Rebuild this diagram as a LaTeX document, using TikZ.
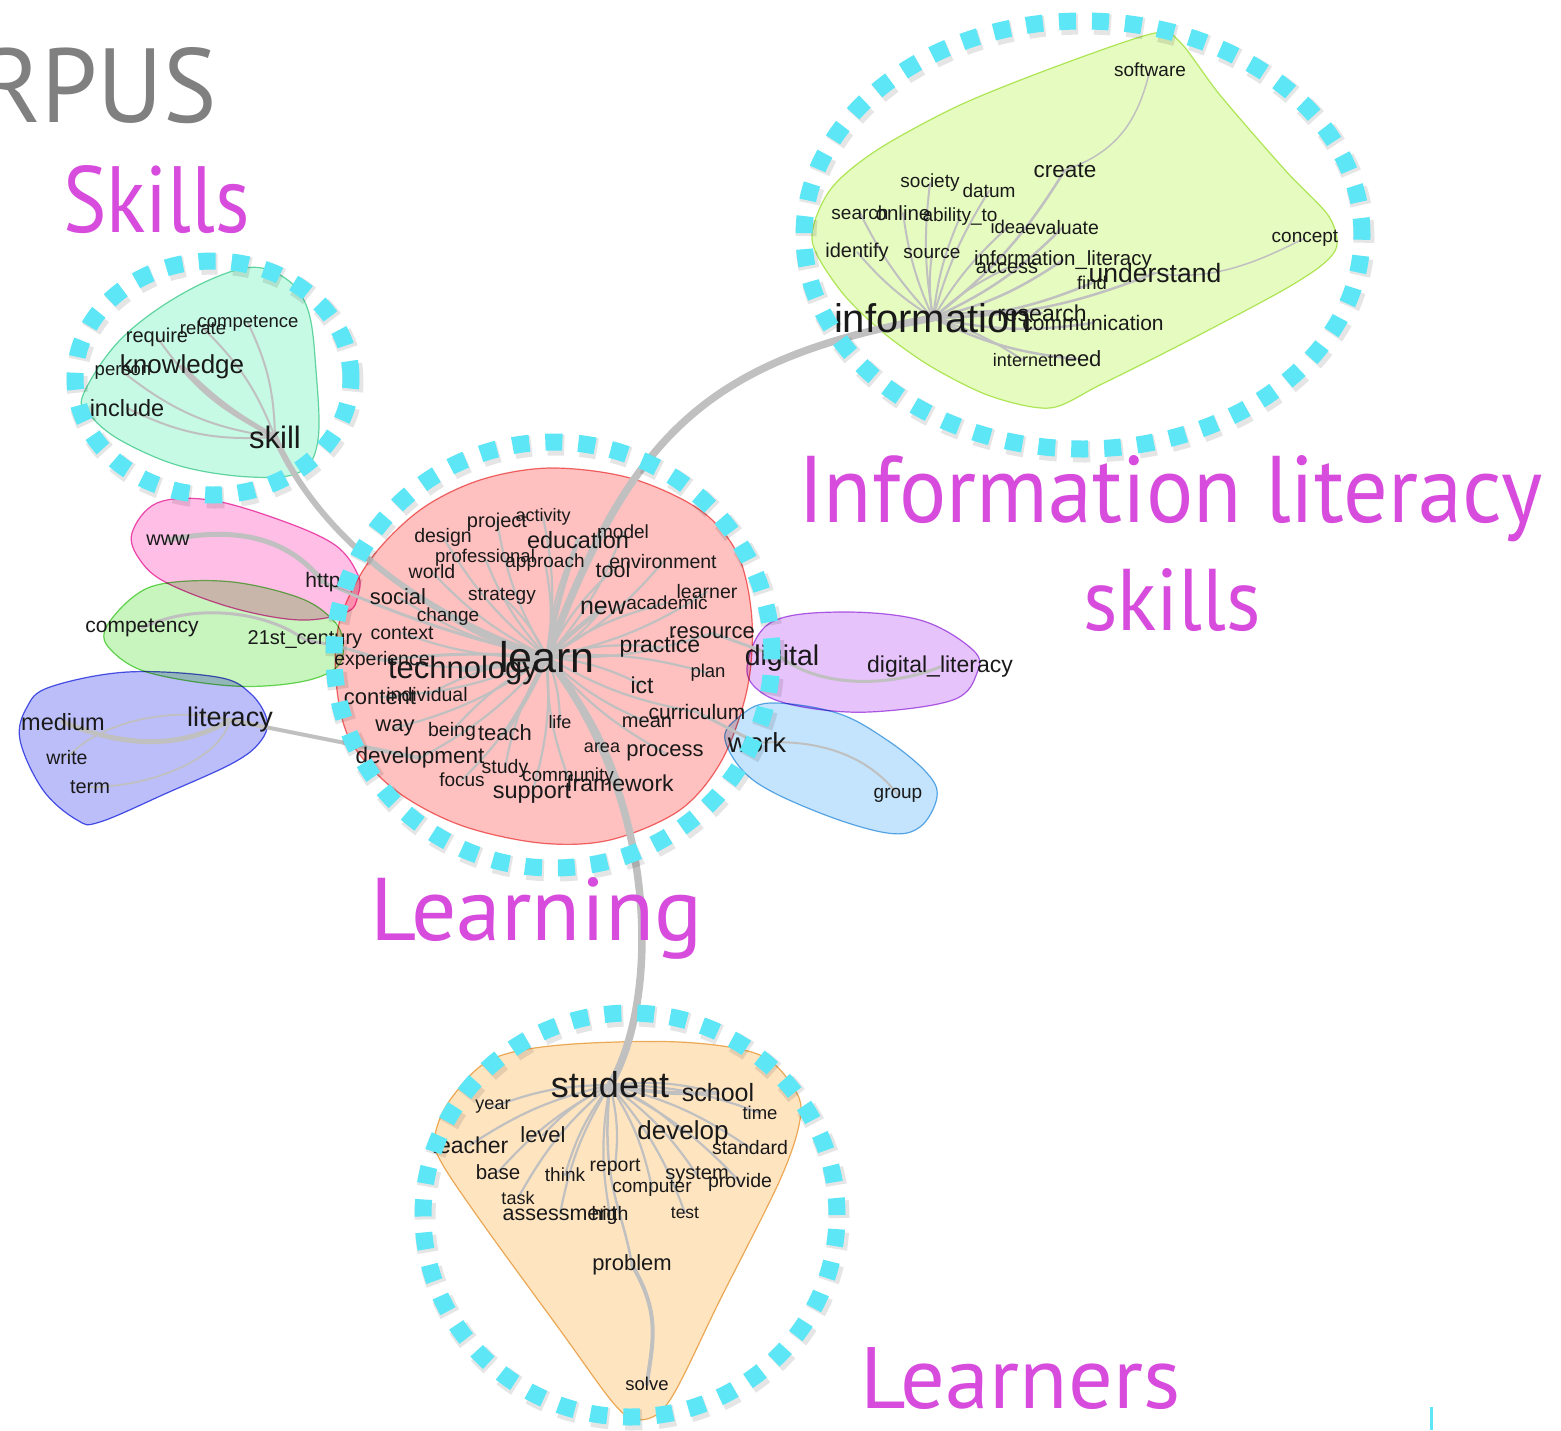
\documentclass[tikz,border=0pt]{standalone}
\usepackage{fontspec}
\setmainfont{Liberation Sans}
\newfontfamily\labfont{PT Sans}
\definecolor{ink}{RGB}{25,25,25}
\definecolor{eg}{RGB}{192,192,192}
\definecolor{cy}{RGB}{92,230,246}
\definecolor{mag}{RGB}{215,76,221}
\definecolor{rp}{RGB}{128,128,128}
\definecolor{mintf}{RGB}{198,250,228}\definecolor{mintd}{RGB}{110,215,170}
\definecolor{infof}{RGB}{230,251,192}\definecolor{infod}{RGB}{185,232,100}
\definecolor{learnf}{RGB}{255,192,192}\definecolor{learnd}{RGB}{240,110,110}
\definecolor{peachf}{RGB}{255,228,192}\definecolor{peachd}{RGB}{235,180,100}
\definecolor{wwwf}{RGB}{255,190,230}\definecolor{wwwd}{RGB}{235,80,180}
\definecolor{compf}{RGB}{200,245,190}\definecolor{compd}{RGB}{110,215,90}
\definecolor{litf}{RGB}{188,190,250}\definecolor{litd}{RGB}{80,90,230}
\definecolor{digf}{RGB}{230,195,250}\definecolor{digd}{RGB}{180,100,230}
\definecolor{workf}{RGB}{195,228,252}\definecolor{workd}{RGB}{100,175,230}
\pgfdeclarelayer{blobs}\pgfdeclarelayer{edges}\pgfdeclarelayer{rings}
\pgfsetlayers{blobs,edges,main,rings}
\begin{document}
\begin{tikzpicture}[x=1pt,y=-1pt,
  wd/.style={font=\fontsize{#1}{#1}\selectfont, inner sep=0pt, text=ink},
  lab/.style={font=\labfont\fontsize{90}{90}\selectfont, text=mag, inner sep=0pt},
  ed/.style={draw=eg, line width=#1, line cap=round},
  ed/.default=2pt,
  blob/.style={line width=1.2pt},
  ring/.style={draw=cy, line width=17pt, dash pattern=on 17pt off 16pt},
  ringshadow/.style={draw=black, opacity=0.10, line width=21pt, dash pattern=on 17pt off 16pt}]
\useasboundingbox (0,0) rectangle (1561,1430);
\begin{pgfonlayer}{blobs}
\fill[white] (0,0) rectangle (1561,1430);
\begin{scope}[blend mode=multiply]
\draw[blob, draw=mintd, fill=mintf] plot[smooth cycle, tension=0.6] coordinates {(83,395) (120,340) (180,295) (245,268) (285,278) (308,310) (316,370) (318,440) (300,472) (250,477) (180,466) (120,440) (90,415)};
\draw[blob, draw=infod, fill=infof] plot[smooth cycle, tension=0.5] coordinates {(812,240) (830,190) (877,150) (960,105) (1060,65) (1155,33) (1180,42) (1220,95) (1285,170) (1328,215) (1337,245) (1322,265) (1280,292) (1180,345) (1100,385) (1050,408) (990,396) (930,366) (880,330) (840,290)};
\draw[blob, draw=learnd, fill=learnf] plot[smooth cycle, tension=0.55] coordinates {(340,620) (370,560) (420,510) (480,480) (550,468) (630,478) (700,510) (738,555) (752,620) (747,690) (722,760) (680,810) (610,840) (540,843) (460,825) (395,790) (350,740) (336,680)};
\draw[blob, draw=peachd, fill=peachf] plot[smooth cycle, tension=0.55] coordinates {(435,1135) (450,1100) (490,1060) (560,1045) (680,1042) (760,1055) (795,1090) (800,1120) (780,1180) (720,1300) (670,1400) (640,1420) (615,1405) (560,1330) (480,1220) (440,1160)};
\draw[blob, draw=wwwd, fill=wwwf] plot[smooth cycle, tension=0.6] coordinates {(132,533) (157,503) (210,500) (280,520) (335,545) (358,575) (358,595) (347,612) (300,620) (233,608) (167,583) (140,560)};
\draw[blob, draw=compd, fill=compf] plot[smooth cycle, tension=0.6] coordinates {(105,630) (133,597) (167,583) (233,582) (300,598) (333,620) (343,642) (337,667) (300,682) (233,686) (150,673) (113,652)};
\draw[blob, draw=litd, fill=litf] plot[smooth cycle, tension=0.6] coordinates {(20,740) (27,707) (50,687) (127,672) (217,677) (250,693) (267,720) (260,742) (233,763) (167,793) (100,822) (77,820) (43,790)};
\draw[blob, draw=digd, fill=digf] plot[smooth cycle, tension=0.6] coordinates {(747,667) (770,623) (837,612) (920,620) (973,650) (977,673) (953,700) (870,712) (803,707) (762,693)};
\draw[blob, draw=workd, fill=workf] plot[smooth cycle, tension=0.6] coordinates {(725,740) (739,717) (770,703) (837,713) (887,740) (927,773) (937,797) (920,827) (887,833) (820,813) (753,780)};
\end{scope}
\end{pgfonlayer}

% ---------- words: learn cluster
\node[wd=20] (project) at (497,522) {project};
\node[wd=18] (activity) at (543,517) {activity};
\node[wd=19.5] (design) at (443,537) {design};
\node[wd=23.5] (education) at (578,540) {education};
\node[wd=19] (model) at (623,532) {model};
\node[wd=18.5] (professional) at (485,558) {professional};
\node[wd=19] (approach) at (545,563) {approach};
\node[wd=21.5] (tool) at (613,570) {tool};
\node[wd=19.5] (environment) at (663,562) {environment};
\node[wd=19.5] (world) at (432,572) {world};
\node[wd=22] (social) at (398,597) {social};
\node[wd=19] (strategy) at (502,596) {strategy};
\node[wd=25] (new) at (603,608) {new};
\node[wd=19] (academic) at (667,603) {academic};
\node[wd=19.5] (learner) at (707,592) {learner};
\node[wd=19] (change) at (448,617) {change};
\node[wd=19.5] (context) at (402,633) {context};
\node[wd=22] (resource) at (712,633) {resource};
\node[wd=23] (practice) at (660,647) {practice};
\node[wd=43] (learn) at (547,657) {learn};
\node[wd=31] (technology) at (463,670) {technology};
\node[wd=19.5] (experience) at (382,660) {experience};
\node[wd=18.5] (plan) at (708,673) {plan};
\node[wd=23] (ict) at (642,685) {ict};
\node[wd=22] (content) at (380,697) {content};
\node[wd=19.5] (individual) at (427,695) {individual};
\node[wd=21] (curriculum) at (697,712) {curriculum};
\node[wd=20] (mean) at (647,722) {mean};
\node[wd=18] (life) at (560,722) {life};
\node[wd=22] (way) at (395,728) {way};
\node[wd=19.5] (being) at (452,731) {being};
\node[wd=22] (teach) at (505,733) {teach};
\node[wd=18] (area) at (602,748) {area};
\node[wd=22] (process) at (665,753) {process};
\node[wd=22.5] (development) at (420,758) {development};
\node[wd=19.5] (study) at (505,768) {study};
\node[wd=19] (focus) at (462,780) {focus};
\node[wd=19] (community) at (568,777) {community};
\node[wd=23] (framework) at (620,783) {framework};
\node[wd=23.5] (support) at (532,793) {support};
% ---------- information cluster
\node[wd=22.5] (create) at (1065,170) {create};
\node[wd=19] (software) at (1150,70) {software};
\node[wd=19] (concept) at (1305,238) {concept};
\node[wd=19] (society) at (930,183) {society};
\node[wd=19] (datum) at (989,191) {datum};
\node[wd=19] (search) at (860,213) {search};
\node[wd=20.5] (online) at (903,213) {online};
\node[wd=19] (ability) at (960,217) {ability\_to};
\node[wd=18.5] (idea) at (1008,227) {idea};
\node[wd=19.5] (evaluate) at (1062,228) {evaluate};
\node[wd=20] (identify) at (857,252) {identify};
\node[wd=19] (source) at (932,253) {source};
\node[wd=20.5] (infolit) at (1063,260) {information\_literacy};
\node[wd=20] (access) at (1007,268) {access};
\node[wd=26.5] (understand) at (1155,273) {understand};
\node[wd=18.5] (find) at (1092,283) {find};
\node[wd=40] (information) at (933,318) {information};
\node[wd=23] (research) at (1042,313) {research};
\node[wd=21] (communication) at (1093,323) {communication};
\node[wd=18] (internet) at (1023,360) {internet};
\node[wd=22] (need) at (1077,359) {need};
% ---------- learners cluster
\node[wd=36] (student) at (610,1085) {student};
\node[wd=25] (school) at (718,1093) {school};
\node[wd=18.5] (time) at (760,1113) {time};
\node[wd=18] (year) at (493,1107) {year};
\node[wd=22] (level) at (543,1135) {level};
\node[wd=26] (develop) at (683,1133) {develop};
\node[wd=23] (teacher) at (470,1145) {teacher};
\node[wd=19.5] (standard) at (750,1148) {standard};
\node[wd=20.5] (base) at (498,1172) {base};
\node[wd=19] (think) at (565,1175) {think};
\node[wd=19.5] (report) at (615,1167) {report};
\node[wd=20] (system) at (697,1175) {system};
\node[wd=19.5] (provide) at (740,1182) {provide};
\node[wd=19] (computer) at (652,1188) {computer};
\node[wd=18] (task) at (518,1198) {task};
\node[wd=21.5] (assessment) at (560,1214) {assessment};
\node[wd=19.5] (high) at (610,1215) {high};
\node[wd=17.5] (test) at (685,1213) {test};
\node[wd=22] (problem) at (632,1265) {problem};
\node[wd=18.5] (solve) at (647,1384) {solve};
% ---------- skills cluster
\node[wd=20] (require) at (157,337) {require};
\node[wd=18.5] (relate) at (203,328) {relate};
\node[wd=18.5] (competence) at (248,323) {competence};
\node[wd=26] (knowledge) at (182,367) {knowledge};
\node[wd=18.5] (person) at (123,372) {person};
\node[wd=23.5] (include) at (127,408) {include};
\node[wd=31] (skill) at (275,437) {skill};
% ---------- small clusters
\node[wd=20] (www) at (168,540) {www};
\node[wd=21] (http) at (323,582) {http};
\node[wd=21] (competency) at (142,628) {competency};
\node[wd=20] (c21) at (305,640) {21st\_century};
\node[wd=23.5] (medium) at (63,722) {medium};
\node[wd=27] (literacy) at (230,720) {literacy};
\node[wd=19.5] (write) at (67,758) {write};
\node[wd=20] (term) at (90,787) {term};
\node[wd=28.5] (digital) at (782,658) {digital};
\node[wd=23] (dlit) at (940,667) {digital\_literacy};
\node[wd=27.5] (work) at (757,743) {work};
\node[wd=19] (group) at (898,795) {group};

% ---------- labels
\node[lab, anchor=base west] (lSkills) at (63,232) {\resizebox{187pt}{67pt}{Skills}};
\node[lab, anchor=base west] (lInfo) at (798,522) {\resizebox{744pt}{67pt}{Information literacy}};
\node[lab, anchor=base west] (lInfoB) at (1083,630) {\resizebox{178pt}{62pt}{skills}};
\node[lab, anchor=base west] (lLearning) at (370,940) {\resizebox{332pt}{63pt}{Learning}};
\node[lab, anchor=base west] (lLearners) at (860,1408) {\resizebox{320pt}{61pt}{Learners}};
\node[lab, text=rp, anchor=base east] (lCorpus) at (217,122) {\resizebox{235pt}{75pt}{RPUS}};

% ---------- edges
\begin{pgfonlayer}{edges}
\foreach \w in {project,design,professional,world,social,change,context,experience,content,way,development,focus,support,life,area,framework,ict,plan,practice,academic,tool,education}
  \draw[ed=2.2pt] (learn.center) to[bend left=10] (\w.center);
\foreach \w in {activity,model,approach,environment,strategy,new,learner,resource,individual,curriculum,mean,being,process,study,community}
  \draw[ed=2.2pt] (learn.center) to[bend right=10] (\w.center);
\foreach \w in {technology,teach,education,new}
  \draw[ed=4.5pt] (learn.center) to[bend left=4] (\w.center);
\foreach \w in {society,datum,search,online,ability,idea,identify,source,access,internet,research}
  \draw[ed=2pt] (information.center) to[bend left=8] (\w.center);
\foreach \w in {evaluate,infolit,find,communication,need,create,understand}
  \draw[ed=2.5pt] (information.center) to[bend right=10] (\w.center);
\draw[ed=1.5pt] (create.center) .. controls +(60,-20) and +(-10,40) .. (software.center);
\draw[ed=1.5pt] (understand.center) .. controls +(60,10) and +(-40,20) .. (concept.center);
\foreach \w in {year,level,teacher,base,think,task,assessment,high}
  \draw[ed=2.2pt] (student.center) to[bend right=10] (\w.center);
\foreach \w in {school,time,develop,standard,report,system,provide,computer,test}
  \draw[ed=2.2pt] (student.center) to[bend left=10] (\w.center);
\draw[ed=4pt] (student.center) to[bend right=6] (school.center);
\draw[ed=2.5pt] (student.center) .. controls +(-10,100) and +(-10,-60) .. (problem.center);
\draw[ed=4pt] (problem.center) .. controls +(30,50) and +(5,-40) .. (solve.center);
\draw[ed=5pt] (skill.center) to[bend left=8] (knowledge.center);
\foreach \w in {include,person,require}
  \draw[ed=2pt] (skill.center) to[bend left=15] (\w.center);
\foreach \w in {relate,competence}
  \draw[ed=2pt] (skill.center) to[bend right=12] (\w.center);
% inter-cluster
\draw[ed=7.5pt] (learn.center) .. controls +(83,-217) and +(-233,42) .. (information.center);
\draw[ed=7.5pt] (learn.center) .. controls +(113,143) and +(50,-85) .. (student.center);
\draw[ed=6pt] (skill.center) .. controls +(45,103) and +(-117,-37) .. (learn.center);
\draw[ed=5pt] (www.center) .. controls +(72,-15) and +(-33,-42) .. (http.center);
\draw[ed=3pt] (http.center) to[bend right=5] (learn.center);
\draw[ed=3pt] (competency.center) .. controls +(50,-25) and +(-40,-30) .. (c21.center);
\draw[ed=3pt] (c21.center) to[bend left=5] (experience.center);
\draw[ed=3pt] (experience.center) to[bend left=5] (learn.center);
\draw[ed=5pt] (literacy.center) .. controls +(-50,30) and +(60,25) .. (medium.center);
\draw[ed=1.8pt] (literacy.center) .. controls +(-60,-15) and +(30,-35) .. (write.center);
\draw[ed=1.8pt] (literacy.center) .. controls +(-10,40) and +(60,0) .. (term.center);
\draw[ed=4pt] (literacy.center) to (development.center);
\draw[ed=3pt] (digital.center) .. controls +(40,30) and +(-50,20) .. (dlit.center);
\draw[ed=3pt] (digital.center) to (resource.center);
\draw[ed=2pt] (work.center) .. controls +(60,-5) and +(-30,-40) .. (group.center);
\draw[ed=3pt] (work.center) to (curriculum.center);
\end{pgfonlayer}

% ---------- dashed rings
\begin{pgfonlayer}{rings}
\begin{scope}[shift={(2,3)}]
\draw[ringshadow] (213,378) ellipse [x radius=138pt, y radius=117pt];
\draw[ringshadow] (553,655) ellipse [x radius=219pt, y radius=213pt];
\draw[ringshadow] (1083,235) ellipse [x radius=279pt, y radius=214pt];
\draw[ringshadow] (630,1215) ellipse [x radius=207pt, y radius=202pt];
\end{scope}
\draw[ring] (213,378) ellipse [x radius=138pt, y radius=117pt];
\draw[ring] (553,655) ellipse [x radius=219pt, y radius=213pt];
\draw[ring] (1083,235) ellipse [x radius=279pt, y radius=214pt];
\draw[ring] (630,1215) ellipse [x radius=207pt, y radius=202pt];
\draw[draw=cy, line width=3pt] (1431,1407) -- (1431,1430);
\end{pgfonlayer}
\end{tikzpicture}
\end{document}
